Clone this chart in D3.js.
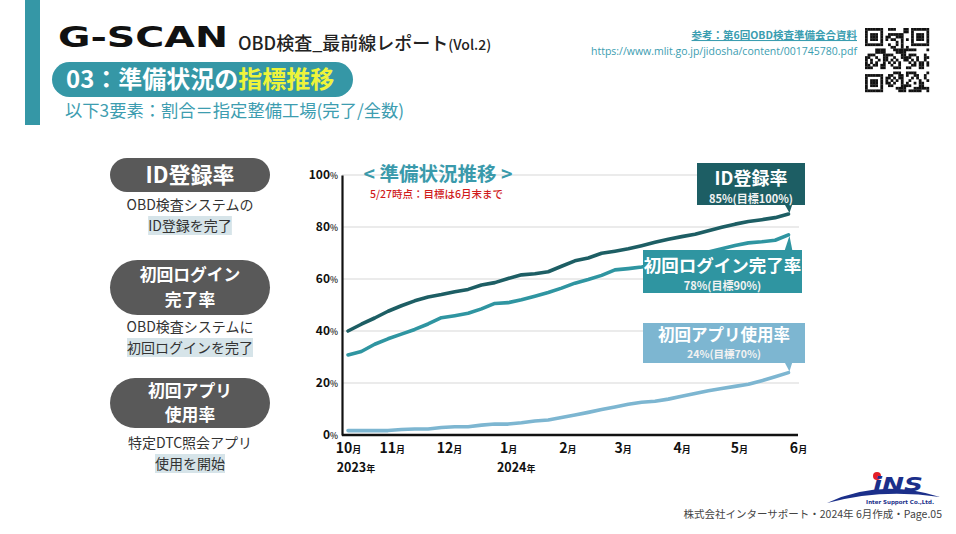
<!DOCTYPE html>
<html><head><meta charset="utf-8">
<script src="https://cdn.jsdelivr.net/npm/d3@7"></script>
<style>
html,body{margin:0;padding:0;background:#fff;}
svg{display:block;font-family:"Noto Sans CJK JP","Noto Sans",sans-serif;}
</style></head>
<body>
<svg id="c" width="956" height="534"></svg>
<script>
// ---------- DATA ----------
const dates = ["2023-10-09","2023-10-16","2023-10-23","2023-10-30","2023-11-06","2023-11-13","2023-11-20","2023-11-27",
"2023-12-04","2023-12-11","2023-12-18","2023-12-25","2024-01-01","2024-01-08","2024-01-15","2024-01-22","2024-01-29",
"2024-02-05","2024-02-12","2024-02-19","2024-02-26","2024-03-04","2024-03-11","2024-03-18","2024-03-25",
"2024-04-01","2024-04-08","2024-04-15","2024-04-22","2024-04-29","2024-05-06","2024-05-13","2024-05-20","2024-05-27"];
const idRate    = [40.0,42.6,45.0,47.6,49.7,51.6,53.1,54.0,55.1,56.0,57.7,58.6,60.2,61.6,62.0,62.8,64.9,67.0,68.1,69.9,70.7,71.6,72.8,74.1,75.3,76.3,77.2,78.6,79.9,81.1,82.1,82.8,83.6,85.0];
const loginRate = [30.8,32.1,34.9,37.0,38.8,40.6,42.7,45.1,45.9,46.8,48.5,50.6,50.9,52.0,53.4,54.8,56.5,58.4,59.8,61.4,63.5,64.0,64.6,65.6,66.8,67.9,69.1,70.4,71.6,72.9,73.9,74.3,74.9,77.0];
const appRate   = [1.7,1.7,1.7,1.7,2.1,2.3,2.3,2.9,3.2,3.2,3.8,4.2,4.2,4.7,5.4,5.8,6.7,7.7,8.7,9.8,10.8,11.8,12.6,13.0,13.8,14.9,16.0,17.0,17.9,18.7,19.5,20.9,22.4,24.0];
const seriesNames = ["ID登録率","初回ログイン完了率","初回アプリ使用率"];
const seriesNotes = ["85%(目標100%)","78%(目標90%)","24%(目標70%)"];
const yTicks = [0,20,40,60,80,100];
const monthTickDates = ["2023-10-09","2023-11-01","2023-12-01","2024-01-01","2024-02-01","2024-03-01","2024-04-01","2024-05-01","2024-06-01"];
const monthTickLabels = ["10","11","12","1","2","3","4","5","6"];
const yearLabels = [{date:"2023-10-09",label:"2023"},{date:"2024-01-01",label:"2024"}];

// ---------- SETUP ----------
const svg = d3.select("#c");
const parse = d3.timeParse("%Y-%m-%d");
const C = {dark:"#1d5e64", teal:"#2f95a1", light:"#7db6d1", head:"#3597a6", gray:"#595959"};

// header
svg.append("rect").attr("x",25).attr("y",0).attr("width",15).attr("height",125).attr("fill",C.head);
svg.append("text").attr("x",58).attr("y",47).attr("font-family","'DejaVu Sans',sans-serif").attr("font-weight",700)
  .attr("font-size",29).attr("textLength",170).attr("lengthAdjust","spacingAndGlyphs").attr("fill","#111").text("G-SCAN");
const t1 = svg.append("text").attr("x",238).attr("y",50).attr("fill","#222");
t1.append("tspan").attr("font-size",18).attr("font-weight",500).text("OBD検査_最前線レポート");
t1.append("tspan").attr("font-size",14).attr("font-weight",500).text("(Vol.2)");

svg.append("rect").attr("x",52).attr("y",62).attr("width",301).attr("height",35).attr("rx",17.5).attr("fill",C.head);
const t2 = svg.append("text").attr("x",66).attr("y",88).attr("font-size",24).attr("font-weight",700).attr("fill","#fff");
t2.append("tspan").text("03：準備状況の");
t2.append("tspan").attr("fill","#eef43a").text("指標推移");
svg.append("text").attr("x",65).attr("y",117).attr("font-size",17.3).attr("fill","#3d9db0").text("以下3要素：割合＝指定整備工場(完了/全数)");

// references
svg.append("text").attr("x",857).attr("y",39).attr("text-anchor","end").attr("font-size",10.5).attr("font-weight",700)
  .attr("fill","#3a9db0").attr("text-decoration","underline").text("参考：第6回OBD検査準備会合資料");
svg.append("text").attr("x",857).attr("y",55).attr("text-anchor","end").attr("font-size",10.5)
  .attr("font-family","'Open Sans','Noto Sans',sans-serif").attr("fill","#3a9db0").text("https://www.mlit.go.jp/jidosha/content/001745780.pdf");

// QR-like decorative block
(function(){
  const g = svg.append("g").attr("transform","translate(865,28)");
  const n=25, s=64/n;
  const finder=(i,j)=>{
    const f=[[0,0],[0,n-7],[n-7,0]];
    for(const [a,b] of f){ if(i>=a&&i<a+7&&j>=b&&j<b+7){const di=i-a,dj=j-b;
      if(di===0||di===6||dj===0||dj===6) return 1; if(di>=2&&di<=4&&dj>=2&&dj<=4) return 1; return 0;}
      if(i>=a-1&&i<=a+7&&j>=b-1&&j<=b+7) return 0;}
    return -1;};
  for(let i=0;i<n;i++)for(let j=0;j<n;j++){
    let v=finder(i,j);
    if(v<0) v=((i*31+j*17+i*j*7+(i^j)*3)%11)<5?1:0;
    if(v) g.append("rect").attr("x",j*s).attr("y",i*s).attr("width",s+0.2).attr("height",s+0.2).attr("fill","#111");
  }
})();

// left description pills
const pills = [
  {y:158,h:34,lines:["ID登録率"],fs:22,desc:["OBD検査システムの","ID登録を完了"],dy:205},
  {y:260,h:55,lines:["初回ログイン","完了率"],fs:16.8,desc:["OBD検査システムに","初回ログインを完了"],dy:327},
  {y:378,h:50,lines:["初回アプリ","使用率"],fs:16.8,desc:["特定DTC照会アプリ","使用を開始"],dy:443}
];
pills.forEach(p=>{
  svg.append("rect").attr("x",110).attr("y",p.y).attr("width",160).attr("height",p.h).attr("rx",p.h/2).attr("fill",C.gray);
  const pt = svg.append("text").attr("text-anchor","middle").attr("font-size",p.fs).attr("font-weight",700).attr("fill","#fff");
  if(p.lines.length===1){
    pt.attr("x",190).attr("y",p.y+p.h/2+8).text(p.lines[0]);
  } else {
    const c = p.y + p.h/2;
    pt.attr("x",190).attr("y",c-12.25+6);
    p.lines.forEach((l,i)=>pt.append("tspan").attr("x",190).attr("dy",i===0?0:24.5).text(l));
  }
  svg.append("text").attr("x",190).attr("y",p.dy+5).attr("text-anchor","middle").attr("font-size",14).attr("fill","#333").text(p.desc[0]);
  const t = svg.append("text").attr("x",190).attr("y",p.dy+26).attr("text-anchor","middle").attr("font-size",14).attr("fill","#333").text(p.desc[1]);
  const bb = t.node().getBBox();
  svg.insert("rect","text:last-of-type").attr("x",bb.x).attr("y",bb.y+1).attr("width",bb.width).attr("height",bb.height-1).attr("fill","#d6e4e9");
  t.raise();
});

// ---------- CHART ----------
const x = d3.scaleTime().domain([parse("2023-10-09"),parse("2024-06-01")]).range([348,798]);
const y = d3.scaleLinear().domain([0,100]).range([435,175]);

// gridlines
svg.append("g").selectAll("line").data(yTicks.filter(d=>d>0)).join("line")
  .attr("x1",342).attr("x2",799).attr("y1",d=>y(d)).attr("y2",d=>y(d)).attr("stroke","#e4e4e4").attr("stroke-width",1.6);

// y axis
const yAxis = svg.append("g").attr("transform","translate(342,0)")
  .call(d3.axisLeft(y).tickValues(yTicks).tickSize(0).tickPadding(4).tickFormat(d=>d));
yAxis.select(".domain").attr("stroke","#111").attr("stroke-width",2.2);
yAxis.selectAll("text").each(function(d){
  const t=d3.select(this); t.text("");
  t.attr("fill","#111").attr("font-family","'Noto Sans CJK JP',sans-serif").attr("dy","0.3em");
  t.append("tspan").attr("font-size",12).attr("font-weight",700).text(d);
  t.append("tspan").attr("font-size",8.5).attr("font-weight",500).text("%");
});

// x axis
const xAxis = svg.append("g").attr("transform","translate(0,435)")
  .call(d3.axisBottom(x).tickValues(monthTickDates.map(parse)).tickSize(0).tickPadding(8).tickFormat((d,i)=>monthTickLabels[i]));
xAxis.select(".domain").attr("stroke","#111").attr("stroke-width",2.5).attr("d","M342,0H798");
xAxis.selectAll("text").each(function(d,i){
  const t=d3.select(this); t.text("");
  t.attr("fill","#111").attr("font-family","'Noto Sans CJK JP',sans-serif").attr("dy","0.95em");
  t.append("tspan").attr("font-size",14).attr("font-weight",700).text(monthTickLabels[i]);
  t.append("tspan").attr("font-size",9).attr("font-weight",700).text("月");
});
yearLabels.forEach(o=>{
  const t = svg.append("text").attr("x",x(parse(o.date))+8).attr("y",472).attr("text-anchor","middle").attr("fill","#111");
  t.append("tspan").attr("font-size",12.5).attr("font-weight",700).text(o.label);
  t.append("tspan").attr("font-size",9).attr("font-weight",700).text("年");
});

// chart title
svg.append("text").attr("x",438).attr("y",181).attr("text-anchor","middle").attr("font-size",19.5).attr("font-weight",700).attr("fill","#3a9aab").text("< 準備状況推移 >");
svg.append("text").attr("x",370).attr("y",198).attr("font-size",10.5).attr("font-weight",500).attr("fill","#d01b1b").text("5/27時点：目標は6月末まで");

// lines
const series = [{vals:idRate,color:C.dark},{vals:loginRate,color:C.teal},{vals:appRate,color:C.light}];
const line = d3.line().x(d=>x(d.date)).y(d=>y(d.v));
series.forEach(s=>{
  const pts = dates.map((d,i)=>({date:parse(d),v:s.vals[i]}));
  s.pts=pts;
  svg.append("path").datum(pts).attr("d",line).attr("fill","none").attr("stroke",s.color)
    .attr("stroke-width",3.6).attr("stroke-linejoin","round").attr("stroke-linecap","round");
});

// callout boxes
const boxes = [
  {x:697,y:163,w:108,h:42,fs:18,nfs:11,pointer:"down",ty:185,ny:203},
  {x:643,y:250,w:159,h:43,fs:17.5,nfs:11,pointer:"up",ty:272,ny:290},
  {x:643,y:323,w:162,h:40,fs:16.5,nfs:10.5,pointer:"down",ty:341,ny:358}
];
boxes.forEach((b,i)=>{
  const s = series[i]; const last = s.pts[s.pts.length-1];
  const px = x(last.date), py = y(last.v);
  svg.append("rect").attr("x",b.x).attr("y",b.y).attr("width",b.w).attr("height",b.h).attr("fill",s.color);
  if(b.pointer==="down"){
    svg.append("path").attr("d",`M${px-4},${b.y+b.h-1}L${px+4},${b.y+b.h-1}L${px+1},${py-1}Z`).attr("fill",s.color);
  } else {
    svg.append("path").attr("d",`M${px-4},${b.y+1}L${px+4},${b.y+1}L${px+1},${py+1}Z`).attr("fill",s.color);
  }
  svg.append("text").attr("x",b.x+b.w/2).attr("y",b.ty).attr("text-anchor","middle").attr("font-size",b.fs).attr("font-weight",700).attr("fill","#fff").text(seriesNames[i]);
  svg.append("text").attr("x",b.x+b.w/2).attr("y",b.ny).attr("text-anchor","middle").attr("font-size",b.nfs).attr("font-weight",700).attr("fill","#f2f2f2").text(seriesNotes[i]);
});

// footer logo
const lg = svg.append("g");
lg.append("path").attr("d","M827,503 Q880,478 940,497 Q882,488 827,503Z").attr("fill","#1b2f8a");
lg.append("circle").attr("cx",877).attr("cy",476).attr("r",4).attr("fill","#e41e26");
lg.append("text").attr("x",873).attr("y",491).attr("font-family","'DejaVu Sans',sans-serif").attr("font-weight",700).attr("font-style","italic")
  .attr("font-size",20).attr("textLength",50).attr("lengthAdjust","spacingAndGlyphs").attr("fill","#1b2f8a").text("iNS");
lg.append("text").attr("x",934).attr("y",504).attr("text-anchor","end").attr("font-family","'DejaVu Sans',sans-serif").attr("font-weight",700)
  .attr("font-size",5.5).attr("fill","#1b2f8a").text("Inter Support Co.,Ltd.");
svg.append("text").attr("x",942).attr("y",518).attr("text-anchor","end").attr("font-size",10.5).attr("fill","#444")
  .text("株式会社インターサポート・2024年 6月作成・Page.05");
</script>
</body></html>
